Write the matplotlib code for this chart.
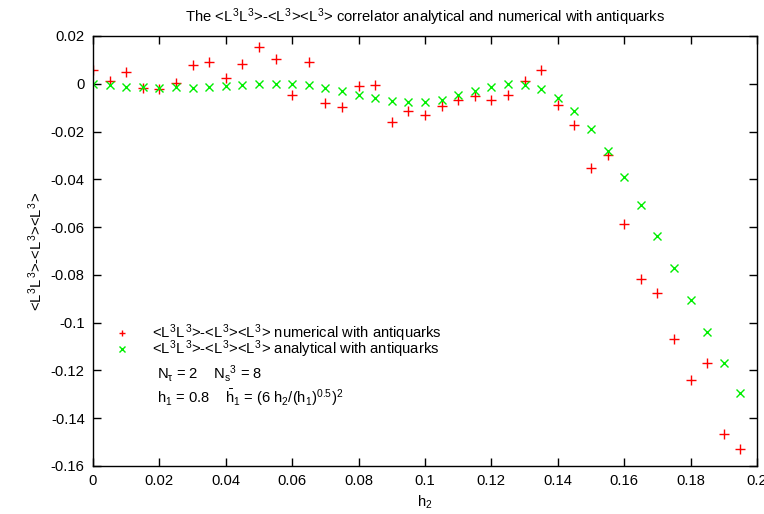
import numpy as np
import matplotlib
matplotlib.use('Agg')
import matplotlib.pyplot as plt

matplotlib.rc('font', family='Liberation Sans', size=10.6)
matplotlib.rc('mathtext', fontset='custom', rm='Liberation Sans',
              it='Liberation Sans', bf='Liberation Sans:bold')

h2 = np.arange(40) * 0.005

numerical = [0.0056, 0.0011, 0.0050, -0.0017, -0.0020, 0.0005, 0.0078, 0.0089,
             0.0025, 0.0082, 0.0152, 0.0102, -0.0045, 0.0093, -0.0081, -0.0099,
             -0.0010, -0.0007, -0.0160, -0.0113, -0.0131, -0.0095, -0.0066, -0.0050,
             -0.0069, -0.0045, 0.0012, 0.0058, -0.0091, -0.0172, -0.0352, -0.0297,
             -0.0586, -0.0819, -0.0877, -0.1067, -0.1240, -0.1170, -0.1466, -0.1530]

analytical = [-0.0002, -0.0007, -0.0013, -0.0013, -0.0017, -0.0015, -0.0017, -0.0014,
              -0.0010, -0.0006, -0.0002, -0.0002, -0.0002, -0.0006, -0.0017, -0.0030,
              -0.0045, -0.0059, -0.0071, -0.0077, -0.0076, -0.0066, -0.0049, -0.0030,
              -0.0013, -0.0003, -0.0006, -0.0024, -0.0058, -0.0115, -0.0191, -0.0282,
              -0.0391, -0.0509, -0.0638, -0.0772, -0.0907, -0.1041, -0.1170, -0.1293]

corr = r'<$L^3L^3$>-<$L^3$><$L^3$>'

fig = plt.figure(figsize=(7.64, 5.14), dpi=100)
ax = fig.add_axes([0.1217, 0.0934, 0.869, 0.8366])

ax.plot(h2, numerical, '+', color='#ff0000', ms=6.5, mew=1,
        label=corr + ' numerical with antiquarks')
ax.plot(h2, analytical, 'x', color='#00ee00', ms=5.5, mew=1,
        label=corr + ' analytical with antiquarks')

ax.set_xlim(0, 0.2)
ax.set_ylim(-0.16, 0.02)
xt = np.arange(0, 0.201, 0.02)
ax.set_xticks(xt)
ax.set_xticklabels(['0', '0.02', '0.04', '0.06', '0.08', '0.1', '0.12',
                    '0.14', '0.16', '0.18', '0.2'])
yt = np.arange(-0.16, 0.021, 0.02)
ax.set_yticks(yt)
ax.set_yticklabels(['-0.16', '-0.14', '-0.12', '-0.1', '-0.08', '-0.06',
                    '-0.04', '-0.02', '0', '0.02'])
ax.tick_params(direction='in', top=True, right=True, length=6, width=1, pad=6)
for s in ax.spines.values():
    s.set_linewidth(1)

ax.set_title('The ' + corr + ' correlator analytical and numerical with antiquarks',
             fontsize=10.6, pad=10)
ax.set_xlabel(r'$h_2$', labelpad=4)
ax.set_ylabel(corr, labelpad=4)

ax.legend(loc='upper left', bbox_to_anchor=(0.027, 0.333), frameon=False,
          handlelength=1.5, handletextpad=1.3, labelspacing=-0.42,
          borderaxespad=0, borderpad=0, markerscale=0.75)

ax.text(0.096, 0.215, r'$N_{\tau}$ = 2    $N_s{}^3$ = 8', transform=ax.transAxes,
        va='center', ha='left')
ax.text(0.096, 0.160, r'$h_1$ = 0.8    $\bar{h}_1$ = (6 $h_2$/($h_1$)$^{0.5}$)$^2$',
        transform=ax.transAxes, va='center', ha='left')

plt.savefig('out.png', dpi=100)
